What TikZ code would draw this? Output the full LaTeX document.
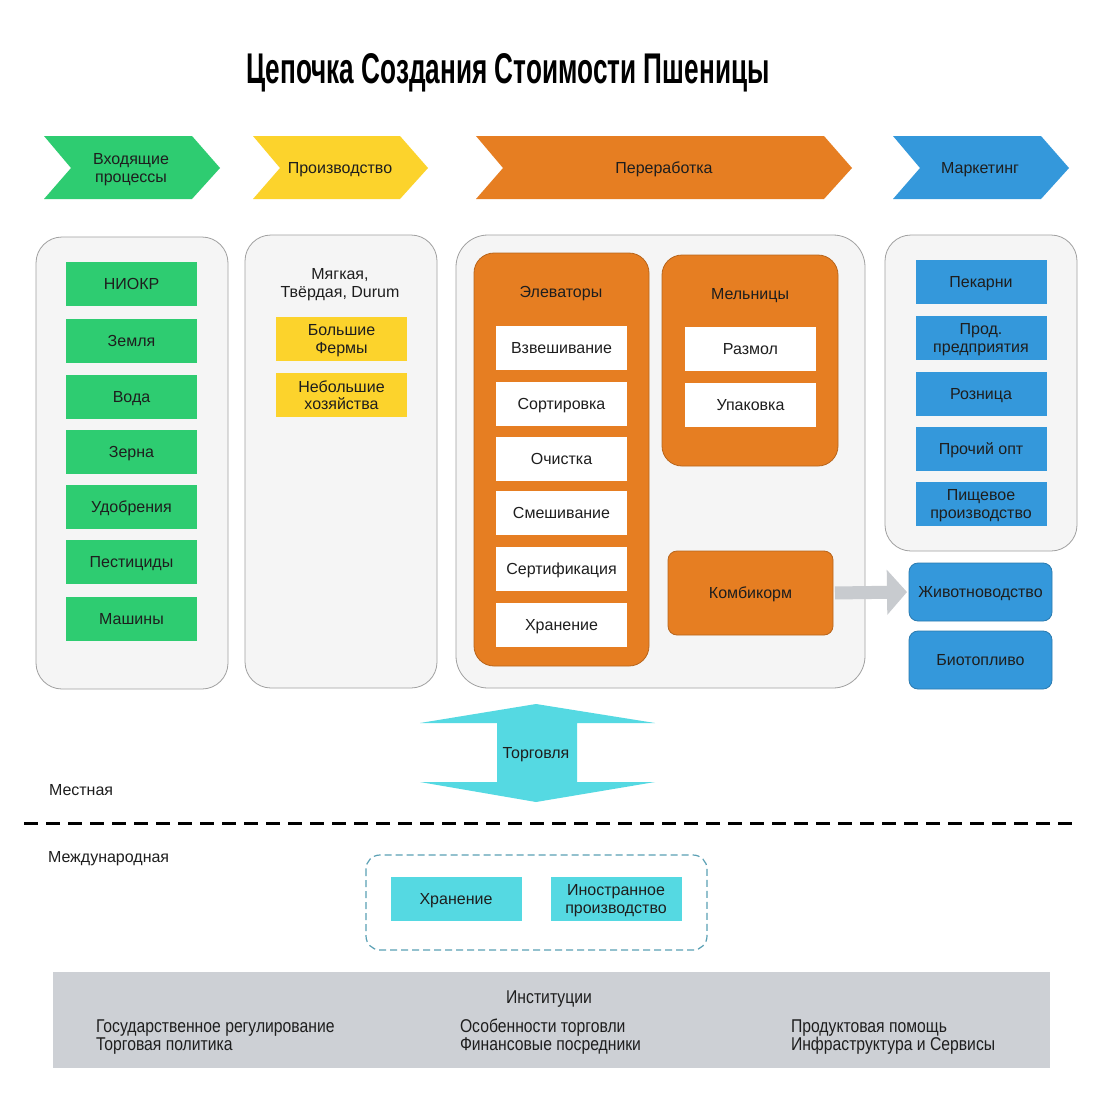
\documentclass[tikz,border=0pt]{standalone}
\usepackage{fontspec}
\setmainfont{Liberation Sans}
\newfontfamily\condfont[FakeStretch=0.85]{Liberation Sans}
\usetikzlibrary{arrows.meta}
\definecolor{cgreen}{RGB}{46,204,113}
\definecolor{cyellow}{RGB}{252,211,44}
\definecolor{corange}{RGB}{230,126,34}
\definecolor{cblue}{RGB}{52,152,219}
\definecolor{ccyan}{RGB}{85,217,226}
\definecolor{panelfill}{RGB}{245,245,245}
\definecolor{panelline}{RGB}{160,160,160}
\definecolor{instgray}{RGB}{205,208,213}
\definecolor{arrowgray}{RGB}{200,203,207}
\definecolor{txtc}{RGB}{30,30,30}
\definecolor{dashcol}{RGB}{90,160,180}
\begin{document}
\begin{tikzpicture}[x=1pt,y=-1pt,
  txt/.style={font=\fontsize{16}{17.5}\selectfont, text=txtc, align=center, inner sep=0pt, outer sep=0pt, text depth=0pt},
  cell/.style={txt, minimum width=131pt, minimum height=44pt},
  gbox/.style={cell, fill=cgreen},
  ybox/.style={cell, fill=cyellow},
  wbox/.style={cell, fill=white},
  bbox/.style={cell, fill=cblue},
  cbox/.style={cell, fill=ccyan},
  panel/.style={fill=panelfill, draw=panelline, line width=0.8pt, rounded corners=26pt},
  opanel/.style={fill=corange, draw=corange!80!black, line width=0.8pt, rounded corners=20pt},
  rbox/.style={txt, draw=#1!80!black, line width=0.8pt, fill=#1, rounded corners=9pt},
  label/.style={txt, anchor=west},
  condtxt/.style={inner sep=0pt, outer sep=0pt, anchor=base west, text=txtc, font=\condfont\fontsize{18.5}{18}\selectfont, align=left}
]
\useasboundingbox (0,0) rectangle (1100,1100);
\fill[white] (0,0) rectangle (1100,1100);

% title
\node[anchor=base, inner sep=0pt, text=black] (title) at (508,83) {\resizebox{523pt}{30pt}{\bfseries Цепочка Создания Стоимости Пшеницы}};

% chevrons
\fill[cgreen] (44,136) -- (192,136) -- (220,168) -- (192,199) -- (44,199) -- (71,168) -- cycle;
\fill[cyellow] (253,136) -- (400,136) -- (428,168) -- (400,199) -- (253,199) -- (280,168) -- cycle;
\fill[corange] (476,136) -- (824,136) -- (852,168) -- (824,199) -- (476,199) -- (503,168) -- cycle;
\fill[cblue] (893,136) -- (1041,136) -- (1069,168) -- (1041,199) -- (893,199) -- (920,168) -- cycle;
\node[txt] (h1) at (131,168) {Входящие\\процессы};
\node[txt] (h2) at (340,168) {Производство};
\node[txt] (h3) at (664,168) {Переработка};
\node[txt] (h4) at (980,168) {Маркетинг};

% panels
\draw[panel] (36,237) rectangle (228,689);
\draw[panel] (245,235) rectangle (437,688);
\draw[panel, rounded corners=32pt] (456,235) rectangle (865,688);
\draw[panel] (885,235) rectangle (1077,551);

% inputs
\node[gbox] (g1) at (131.5,284) {НИОКР};
\node[gbox] (g2) at (131.5,341) {Земля};
\node[gbox] (g3) at (131.5,397) {Вода};
\node[gbox] (g4) at (131.5,452) {Зерна};
\node[gbox] (g5) at (131.5,507) {Удобрения};
\node[gbox] (g6) at (131.5,562) {Пестициды};
\node[gbox] (g7) at (131.5,619) {Машины};

% production
\node[txt] (p0) at (340,283) {Мягкая,\\Твёрдая, Durum};
\node[ybox] (p1) at (341.5,339) {Большие\\Фермы};
\node[ybox] (p2) at (341.5,395) {Небольшие\\хозяйства};

% processing
\draw[opanel] (474,253) rectangle (649,666);
\draw[opanel] (662,255) rectangle (838,466);
\node[txt] (el) at (561,292) {Элеваторы};
\node[txt] (ml) at (750,294) {Мельницы};
\node[wbox] (e1) at (561.5,348) {Взвешивание};
\node[wbox] (e2) at (561.5,404) {Сортировка};
\node[wbox] (e3) at (561.5,459) {Очистка};
\node[wbox] (e4) at (561.5,513) {Смешивание};
\node[wbox] (e5) at (561.5,569) {Сертификация};
\node[wbox] (e6) at (561.5,625) {Хранение};
\node[wbox] (m1) at (750.5,349) {Размол};
\node[wbox] (m2) at (750.5,405) {Упаковка};
\node[rbox=corange, minimum width=165pt, minimum height=84pt] (komb) at (750.5,593) {Комбикорм};

% marketing
\node[bbox] (b1) at (981,282) {Пекарни};
\node[bbox] (b2) at (981,338) {Прод.\\предприятия};
\node[bbox] (b3) at (981,394) {Розница};
\node[bbox] (b4) at (981,449) {Прочий опт};
\node[bbox] (b5) at (981,504) {Пищевое\\производство};
\node[rbox=cblue, minimum width=143pt, minimum height=58pt] (ziv) at (980.5,592) {Животноводство};
\node[rbox=cblue, minimum width=143pt, minimum height=58pt] (bio) at (980.5,660) {Биотопливо};

\draw[arrowgray, line width=13pt, -{Triangle[length=20pt, width=44pt]}, shorten <=2pt, shorten >=2pt] (komb.east) -- (ziv.west);

% trade arrow
\fill[ccyan] (536,704) -- (655,723) -- (577,723) -- (577,782) -- (655,782) -- (536,802) -- (420,782) -- (497,782) -- (497,723) -- (420,723) -- cycle;
\node[txt] (trade) at (536,753) {Торговля};

% local / international
\node[label] (loc) at (49,790) {Местная};
\draw[line width=3pt, dash pattern=on 14pt off 8pt] (24,823) -- (1077,823);
\node[label] (intl) at (48,857) {Международная};

\draw[dashcol, dash pattern=on 7pt off 4pt, line width=1.2pt, rounded corners=14pt] (366,855) rectangle (707,950);
\node[cbox] (c1) at (456,899) {Хранение};
\node[cbox] (c2) at (616,899) {Иностранное\\производство};

% institutions
\fill[instgray] (53,972) rectangle (1050,1068);
\node[condtxt, anchor=base] (inst) at (549,1003) {Институции};
\node[condtxt] (i1) at (96,1050) {Государственное регулирование\\Торговая политика};
\node[condtxt] (i2) at (460,1050) {Особенности торговли\\Финансовые посредники};
\node[condtxt] (i3) at (791,1050) {Продуктовая помощь\\Инфраструктура и Сервисы};
\end{tikzpicture}
\end{document}
